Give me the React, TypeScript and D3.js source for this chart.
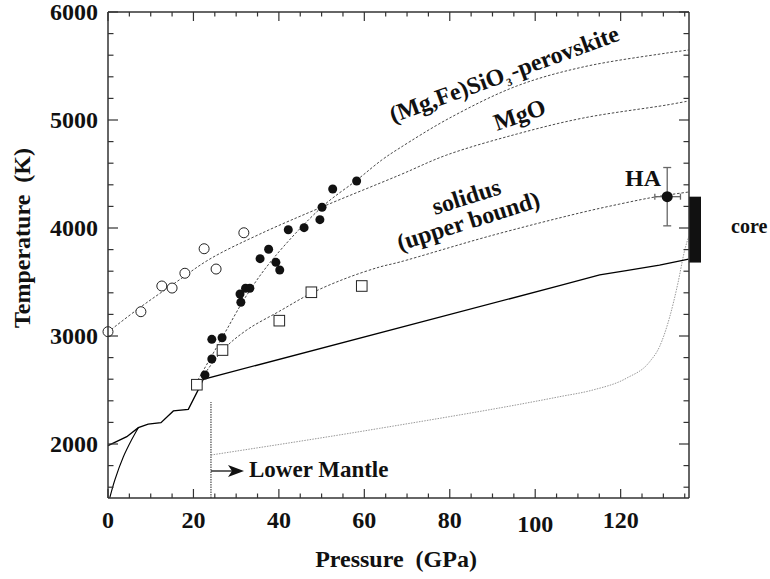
import React from "react";
import * as d3 from "d3";

// ---------- data (Pressure GPa, Temperature K) ----------
const mgoPoints: [number, number][] = [
  [0.0, 3040], [7.7, 3225], [12.6, 3463], [15.0, 3444],
  [18.0, 3581], [22.5, 3808], [25.3, 3620], [31.8, 3956],
];
const pvPoints: [number, number][] = [
  [22.7, 2639], [24.3, 2787], [24.3, 2969], [26.7, 2984], [31.1, 3312],
  [30.9, 3389], [32.2, 3442], [33.2, 3442], [35.6, 3716], [37.6, 3803],
  [39.3, 3682], [40.2, 3611], [42.2, 3984], [45.9, 4003], [49.6, 4077],
  [50.1, 4192], [52.6, 4361], [58.2, 4435],
];
const solidusPoints: [number, number][] = [
  [20.8, 2549], [26.8, 2870], [40.1, 3142], [47.6, 3405], [59.4, 3463],
];
const pvFit: [number, number][] = [
  [21.05, 2593], [26.67, 2981], [32.51, 3380], [38.6, 3713], [50.06, 4194],
  [58.25, 4444], [64.1, 4630], [68.3, 4741], [80.0, 5019], [95.7, 5315],
  [111.2, 5491], [130.8, 5620], [135.9, 5648],
];
const mgoFit: [number, number][] = [
  [0, 3037], [7.49, 3264], [15.67, 3491], [23.86, 3713], [35.56, 3944],
  [50.06, 4194], [68.3, 4491], [79.3, 4676], [95.7, 4870], [111.2, 5018],
  [130.8, 5139], [135.9, 5176],
];
const solidusFit: [number, number][] = [
  [20.82, 2546], [26.9, 2870], [32.5, 3056], [40.2, 3231], [47.7, 3398],
  [55.9, 3537], [63.6, 3639], [68.3, 3685], [89.4, 3926], [110.4, 4139],
  [119.8, 4222], [128.0, 4287], [135.9, 4333],
];
const geotherm: [number, number][] = [
  [0, 1985], [4.4, 2068], [7.1, 2151], [9.4, 2185], [12.4, 2197],
  [15.3, 2306], [18.8, 2321], [21.5, 2531], [22.3, 2599], [105.7, 3466],
  [115.1, 3565], [121.3, 3605], [129.1, 3657], [135.9, 3712],
];
const lowPressureSolidus: [number, number][] = [
  [0.4, 1500], [1.6, 1667], [3.6, 1882], [5.5, 2037], [7.1, 2151],
];
const adiabat: [number, number][] = [
  [24.1, 1898], [63.6, 2145], [105.7, 2438], [113.5, 2500], [121.3, 2608],
  [126.8, 2762], [129.1, 2901], [131.5, 3179], [133.4, 3488], [135.0, 3796],
  [135.9, 3919],
];
const mantleBoundary: [number, number][] = [[24.1, 1500], [24.1, 2390]];
const haPoint = { p: 130.9, t: 4290, pErr: [128, 134], tErr: [4020, 4560] };
const coreRange = [3680, 4290];

const pTicks = d3.range(0, 136, 5);
const tTicks = d3.range(1600, 6001, 200);
const pLabels = [0, 20, 40, 60, 80, 100, 120];
const tLabels = [2000, 3000, 4000, 5000, 6000];

// ---------- layout ----------
const W = 770, H = 579;
const x = d3.scaleLinear().domain([0, 136]).range([108, 689]);
const y = d3.scaleLinear().domain([1500, 6000]).range([498, 12]);

const FONT = '"Liberation Serif", "DejaVu Serif", serif';

const lineLin = d3.line<[number, number]>().x(d => x(d[0])).y(d => y(d[1]));
const lineSmooth = d3.line<[number, number]>().x(d => x(d[0])).y(d => y(d[1])).curve(d3.curveCatmullRom.alpha(0.5));
const lineMono = d3.line<[number, number]>().x(d => x(d[0])).y(d => y(d[1])).curve(d3.curveMonotoneX);

export default function App() {
  const x0 = x(0), x1 = x(136), y0 = y(1500), y1 = y(6000);
  const axisColor = "#333";
  const txt: React.CSSProperties = { fontFamily: FONT, fontWeight: 700 };
  return (
    <div>
      <style>{`body{margin:0}`}</style>
      <svg width={W} height={H} style={{ display: "block", background: "#fff" }}>
        {/* curves */}
        <path d={lineSmooth(pvFit) || ""} fill="none" stroke="#333" strokeWidth={0.9} strokeDasharray="2.5,1.8" />
        <path d={lineSmooth(mgoFit) || ""} fill="none" stroke="#333" strokeWidth={0.9} strokeDasharray="2.5,1.8" />
        <path d={lineSmooth(solidusFit) || ""} fill="none" stroke="#333" strokeWidth={0.9} strokeDasharray="2.5,1.8" />
        <path d={lineMono(adiabat) || ""} fill="none" stroke="#999" strokeWidth={1} strokeDasharray="1.5,1.2" />
        <path d={lineLin(mantleBoundary) || ""} fill="none" stroke="#777" strokeWidth={1.6} strokeDasharray="1.5,1" />
        <path d={lineLin(geotherm) || ""} fill="none" stroke="#000" strokeWidth={1.3} />
        <path d={lineSmooth(lowPressureSolidus) || ""} fill="none" stroke="#000" strokeWidth={1.1} />

        {/* markers */}
        {mgoPoints.map((d, i) => (
          <circle key={"m" + i} cx={x(d[0])} cy={y(d[1])} r={5} fill="#fff" stroke="#222" strokeWidth={1} />
        ))}
        {solidusPoints.map((d, i) => (
          <rect key={"s" + i} x={x(d[0]) - 5.3} y={y(d[1]) - 5.3} width={10.6} height={10.6} fill="#fff" stroke="#222" strokeWidth={1} />
        ))}
        {pvPoints.map((d, i) => (
          <circle key={"p" + i} cx={x(d[0])} cy={y(d[1])} r={4.5} fill="#111" />
        ))}

        {/* HA point with error bars */}
        <g stroke="#666" strokeWidth={1.3}>
          <line x1={x(haPoint.p)} x2={x(haPoint.p)} y1={y(haPoint.tErr[0])} y2={y(haPoint.tErr[1])} />
          <line x1={x(haPoint.p) - 4} x2={x(haPoint.p) + 4} y1={y(haPoint.tErr[0])} y2={y(haPoint.tErr[0])} />
          <line x1={x(haPoint.p) - 4} x2={x(haPoint.p) + 4} y1={y(haPoint.tErr[1])} y2={y(haPoint.tErr[1])} />
          <line x1={x(haPoint.pErr[0])} x2={x(haPoint.pErr[1])} y1={y(haPoint.t)} y2={y(haPoint.t)} />
          <line x1={x(haPoint.pErr[0])} x2={x(haPoint.pErr[0])} y1={y(haPoint.t) - 3} y2={y(haPoint.t) + 3} />
          <line x1={x(haPoint.pErr[1])} x2={x(haPoint.pErr[1])} y1={y(haPoint.t) - 3} y2={y(haPoint.t) + 3} />
        </g>
        <circle cx={x(haPoint.p)} cy={y(haPoint.t)} r={5.5} fill="#111" />

        {/* core bar */}
        <rect x={x1} y={y(coreRange[1])} width={12} height={y(coreRange[0]) - y(coreRange[1])} fill="#111" />

        {/* axes frame */}
        <g stroke={axisColor} strokeWidth={1.5} fill="none">
          <line x1={x0} x2={x1} y1={y0} y2={y0} />
          <line x1={x0} x2={x1} y1={y1} y2={y1} />
          <line x1={x0} x2={x0} y1={y0} y2={y1} />
          <line x1={x1} x2={x1} y1={y0} y2={y1} />
        </g>
        <g stroke={axisColor} strokeWidth={1.2}>
          {pTicks.map(p => {
            const L = p % 20 === 0 ? 9 : 4.5;
            return (
              <g key={"pt" + p}>
                <line x1={x(p)} x2={x(p)} y1={y0} y2={y0 - L} />
                <line x1={x(p)} x2={x(p)} y1={y1} y2={y1 + L} />
              </g>
            );
          })}
          {tTicks.map(t => {
            const L = t % 1000 === 0 ? 10 : 5.5;
            return (
              <g key={"tt" + t}>
                <line x1={x0} x2={x0 + L} y1={y(t)} y2={y(t)} />
                <line x1={x1} x2={x1 - L} y1={y(t)} y2={y(t)} />
              </g>
            );
          })}
        </g>

        {/* tick labels */}
        <g fontSize={24} fill="#111" style={txt}>
          {pLabels.map(p => (
            <text key={"pl" + p} x={x(p)} y={p === 100 ? 532 : 528} textAnchor="middle" style={txt}>{p}</text>
          ))}
          {tLabels.map(t => (
            <text key={"tl" + t} x={98} y={y(t)} dy="0.35em" textAnchor="end" style={txt}>{t}</text>
          ))}
        </g>

        {/* axis titles */}
        <text x={396} y={567} textAnchor="middle" fontSize={24} fill="#111" style={{ ...txt, whiteSpace: "pre" }}>
          {"Pressure  (GPa)"}
        </text>
        <text transform="translate(30,238) rotate(-90)" textAnchor="middle" fontSize={24} fill="#111" style={{ ...txt, whiteSpace: "pre" }}>
          {"Temperature  (K)"}
        </text>

        {/* annotations */}
        <g fontSize={24} fill="#111" style={txt}>
          <text transform="translate(393,123) rotate(-20)" style={txt}>
            (Mg,Fe)SiO<tspan fontSize={11} dy={5}>3</tspan><tspan dy={-5} dx={2}>-perovskite</tspan>
          </text>
          <text transform="translate(497,131) rotate(-19)" style={txt}>MgO</text>
          <text transform="translate(435,215) rotate(-17.5)" style={txt}>solidus</text>
          <text transform="translate(400,251) rotate(-17.5)" style={txt}>(upper bound)</text>
          <text x={625} y={186} style={txt}>HA</text>
          <text x={731} y={233} fontSize={20} style={txt}>core</text>
          <text x={249} y={477} fontSize={23} style={txt}>Lower Mantle</text>
        </g>
        {/* arrow */}
        <line x1={x(24.1)} x2={235} y1={471} y2={471} stroke="#111" strokeWidth={1.3} />
        <polygon points="228,465 244,471 228,477 232,471" fill="#111" />
      </svg>
    </div>
  );
}
